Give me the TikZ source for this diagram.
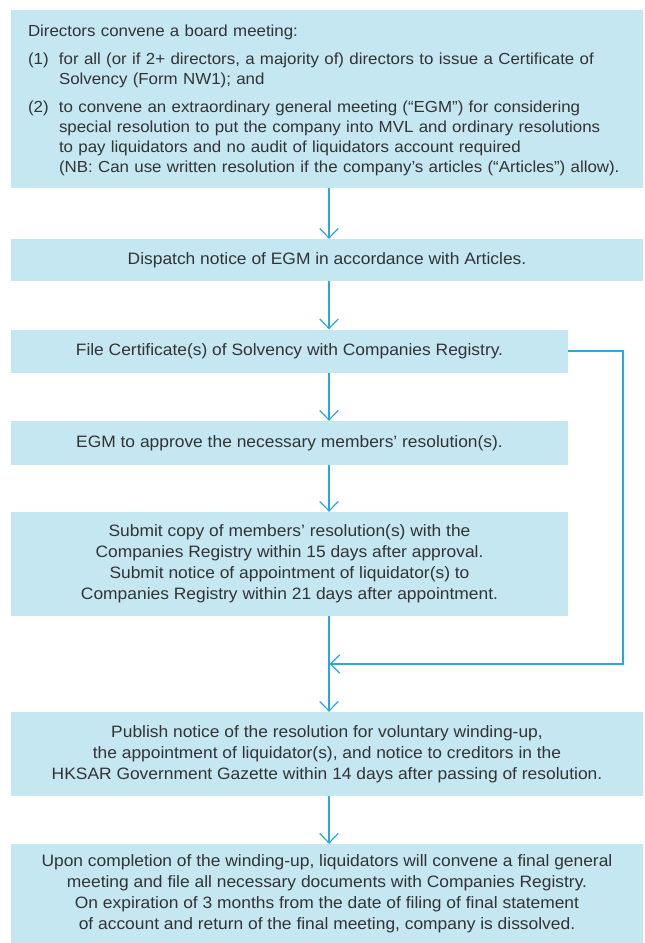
\documentclass[tikz,border=0pt]{standalone}
\usepackage{fontspec}
\setmainfont{Liberation Sans}[FakeStretch=1.055]
\usetikzlibrary{arrows.meta}
\definecolor{boxfill}{HTML}{C5E7F2}
\definecolor{arrowc}{HTML}{29A8DF}
\definecolor{txt}{HTML}{333333}
\begin{document}
\begin{tikzpicture}[x=1pt,y=-1pt,
  box/.style={fill=boxfill,draw=none,inner sep=0pt,text=txt,align=center,
    font=\fontsize{16.5}{21}\selectfont},
  flow/.style={draw=arrowc,line width=1.2pt,-{Straight Barb[length=9.5pt,width=18.5pt,line width=1.2pt]}}]
\useasboundingbox (0,0) rectangle (645,943);
\node[box,minimum width=632pt,minimum height=178pt,inner sep=0pt] (b1) at (327,98.5) {};
\node[text=txt,inner sep=0pt,text width=598pt,align=left,
  font=\fontsize{16}{20}\selectfont] (t1) at (327,100.5) {%
Directors convene a board meeting:\\[8pt]
\makebox[31pt][l]{(1)}for all (or if 2+ directors, a majority of) directors to issue a Certificate of\\
\hspace*{31pt}Solvency (Form NW1); and\\[8pt]
\makebox[31pt][l]{(2)}to convene an extraordinary general meeting (“EGM”) for considering\\
\hspace*{31pt}special resolution to put the company into MVL and ordinary resolutions\\
\hspace*{31pt}to pay liquidators and no audit of liquidators account required\\
\hspace*{31pt}(NB: Can use written resolution if the company’s articles (“Articles”) allow).};
\node[box,minimum width=632pt,minimum height=42pt] (b2) at (327,260) {Dispatch notice of EGM in accordance with Articles.};
\node[box,minimum width=557pt,minimum height=43pt] (b3) at (289.5,351) {File Certificate(s) of Solvency with Companies Registry.};
\node[box,minimum width=557pt,minimum height=44pt] (b4) at (289.5,443) {EGM to approve the necessary members’ resolution(s).};
\node[box,minimum width=557pt,minimum height=104pt] (b5) at (289.5,564) {Submit copy of members’ resolution(s) with the\\
Companies Registry within 15 days after approval.\\
Submit notice of appointment of liquidator(s) to\\
Companies Registry within 21 days after appointment.};
\node[box,minimum width=632pt,minimum height=84pt] (b6) at (327,754) {Publish notice of the resolution for voluntary winding-up,\\
the appointment of liquidator(s), and notice to creditors in the\\
HKSAR Government Gazette within 14 days after passing of resolution.};
\node[box,minimum width=632pt,minimum height=99pt] (b7) at (327,893.5) {Upon completion of the winding-up, liquidators will convene a final general\\
meeting and file all necessary documents with Companies Registry.\\
On expiration of 3 months from the date of filing of final statement\\
of account and return of the final meeting, company is dissolved.};
\coordinate (ax) at (329,0);
\coordinate (rc) at (623,0);
\coordinate (mg) at (329.5,664);
\draw[flow] (b1.south -| ax) -- (b2.north -| ax);
\draw[flow] (b2.south -| ax) -- (b3.north -| ax);
\draw[flow] (b3.south -| ax) -- (b4.north -| ax);
\draw[flow] (b4.south -| ax) -- (b5.north -| ax);
\draw[flow] (b5.south -| ax) -- (b6.north -| ax);
\draw[flow] (b6.south -| ax) -- (b7.north -| ax);
\draw[flow,line width=1.5pt] (b3.east) -- (b3.east -| rc) -- (mg -| rc) -- (mg);
\end{tikzpicture}
\end{document}
